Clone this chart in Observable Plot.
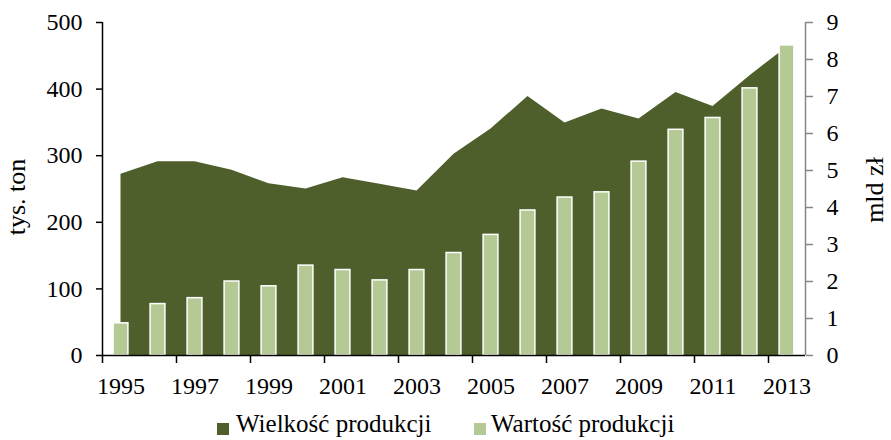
<!DOCTYPE html>
<html>
<head>
<meta charset="utf-8">
<script src="https://cdn.jsdelivr.net/npm/d3@7"></script>
<script src="https://cdn.jsdelivr.net/npm/@observablehq/plot@0.6"></script>
<style>
  html, body { margin: 0; padding: 0; background: #fff; }
  #chart { position: relative; width: 891px; height: 440px; font-family: "Liberation Serif", "Times New Roman", serif; }
  #legend { position: relative; width: 891px; height: 40px; font-size: 25px; color: #000; }
  .sw { position: absolute; width: 12px; height: 12px; top: 23px; }
  .lt { position: absolute; top: 9px; line-height: 30px; white-space: nowrap; }
</style>
</head>
<body>
<div id="chart"></div>
<script>
const years = [1995, 1996, 1997, 1998, 1999, 2000, 2001, 2002, 2003, 2004, 2005, 2006, 2007, 2008, 2009, 2010, 2011, 2012, 2013];
const volume = [272, 291, 291, 278, 258, 250, 267, 257, 247, 302, 340, 389, 349, 370, 355, 395, 374, 420, 463];
const value = [0.87, 1.39, 1.55, 2.0, 1.87, 2.43, 2.31, 2.03, 2.31, 2.77, 3.26, 3.92, 4.27, 4.41, 5.24, 6.1, 6.42, 7.22, 8.38];
const leftTicks = [0, 100, 200, 300, 400, 500];
const rightTicks = [0, 1, 2, 3, 4, 5, 6, 7, 8, 9];
const labelYears = [1995, 1997, 1999, 2001, 2003, 2005, 2007, 2009, 2011, 2013];
const seriesNames = ["Wielkość produkcji", "Wartość produkcji"];
const axisTitles = ["tys. ton", "mld zł"];
const colors = ["#4F5F2C", "#B5C995"];

const k = 500 / 9; // right-axis (mld zł) to left-axis (tys. ton) scale
const data = years.map((y, i) => ({year: y, volume: volume[i], value: value[i]}));
const boundaries = labelYears.map(y => y - 0.5);

const plot = Plot.plot({
  width: 891,
  height: 400,
  marginTop: 22,
  marginBottom: 45,
  marginLeft: 102,
  marginRight: 86,
  style: {fontFamily: "'Liberation Serif', 'Times New Roman', serif", fontSize: "24px", color: "#000", background: "#fff"},
  x: {type: "linear", domain: [years[0] - 0.5, years[years.length - 1] + 0.5], axis: null},
  y: {domain: [0, 500], axis: null},
  marks: [
    Plot.areaY(data, {x: "year", y: "volume", fill: colors[0]}),
    Plot.rectY(data, {x1: d => d.year - 0.2, x2: d => d.year + 0.2, y1: 0, y2: d => d.value * k, fill: colors[1], stroke: "#fff", strokeWidth: 1.5}),
    Plot.ruleX([years[0] - 0.5], {y1: 0, y2: 500, stroke: "#000", strokeWidth: 1.5}),
    Plot.ruleX([years[years.length - 1] + 0.5], {y1: 0, y2: 500, stroke: "#868686", strokeWidth: 1.5}),
    Plot.ruleY([0], {stroke: "#000", strokeWidth: 1.5}),
    Plot.axisY(leftTicks, {anchor: "left", tickSize: 6, tickPadding: 14, tickFormat: d => String(d), stroke: "#000", strokeWidth: 1.5, label: null}),
    Plot.axisY(rightTicks.map(v => v * k), {anchor: "right", tickSize: 7, tickPadding: 14, tickFormat: d => String(Math.round(d / k)), stroke: "#868686", fill: "#000", strokeWidth: 1.5, label: null}),
    Plot.axisX(boundaries, {anchor: "bottom", tickSize: 8, tickFormat: () => "", stroke: "#000", strokeWidth: 1.5, label: null}),
    Plot.axisX(labelYears, {anchor: "bottom", tickSize: 0, tickPadding: 21, tickFormat: d => String(d), label: null})
  ]
});
const chart = document.getElementById("chart");
chart.appendChild(plot);

// axis titles, rotated, reading bottom-to-top
const svg = d3.select(plot);
const titlePos = [[25, 197], [883, 190]];
axisTitles.forEach((t, i) => {
  svg.append("text")
    .attr("transform", `translate(${titlePos[i][0]},${titlePos[i][1]}) rotate(-90)`)
    .attr("text-anchor", "middle")
    .attr("font-size", 26)
    .attr("fill", "#000")
    .text(t);
});

const legend = document.createElement("div");
legend.id = "legend";
const legendX = [[217, 236], [474, 491]];
seriesNames.forEach((name, i) => {
  const sw = document.createElement("div");
  sw.className = "sw";
  sw.style.left = legendX[i][0] + "px";
  sw.style.background = colors[i];
  const t = document.createElement("div");
  t.className = "lt";
  t.style.left = legendX[i][1] + "px";
  t.textContent = name;
  legend.appendChild(sw);
  legend.appendChild(t);
});
chart.appendChild(legend);
</script>
</body>
</html>
